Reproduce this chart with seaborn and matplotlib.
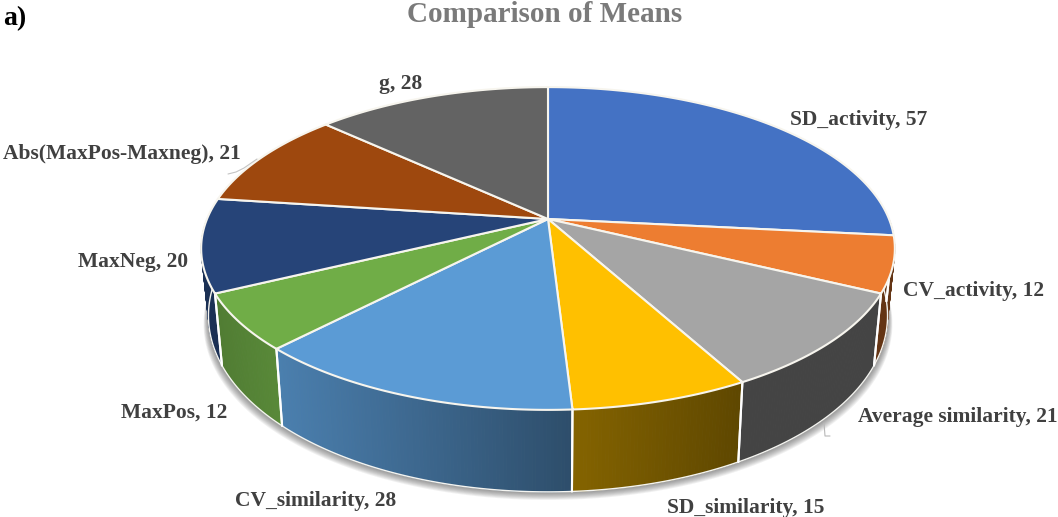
import numpy as np
import matplotlib
matplotlib.use("Agg")
import matplotlib.pyplot as plt
import seaborn as sns

# Chart data
categories = ["SD_activity", "CV_activity", "Average similarity", "SD_similarity",
              "CV_similarity", "MaxPos", "MaxNeg", "Abs(MaxPos-Maxneg)", "g"]
values = [57, 12, 21, 15, 28, 12, 20, 21, 28]
slice_colors = ["#4472C4", "#ED7D31", "#A5A5A5", "#FFC000", "#5B9BD5",
                "#70AD47", "#264478", "#9E480E", "#636363"]

# Wall shading (left factor, right factor) per slice
wall_shade = [(.6, .6), (.42, .42), (.41, .41), (.52, .37), (.82, .50),
              (.72, .80), (.70, .70), (.6, .6), (.6, .6)]

# Label anchors in figure pixels
label_x = [790, 903, 858, 667, 235, 121, 78, 3, 379]
label_y = [120, 291, 417, 508, 501, 413, 262, 154, 84]

W, H = 1058, 517
CX, CY = 548.0, 219.0
PERSP, RX, RY = 0.1827, 341.0, 156.0
BOTTOM_SCALE = 0.979

sns.set_theme(style="white")
plt.rcParams["font.family"] = ["Liberation Serif", "DejaVu Serif"]

fig = plt.figure(figsize=(W / 100, H / 100), dpi=100)
ax = fig.add_axes([0, 0, 1, 1])
ax.set_xlim(0, W)
ax.set_ylim(H, 0)
ax.axis("off")


def rim(theta):
    """Perspective projection of the disc rim; theta runs clockwise from the top."""
    u, v = np.sin(theta), np.cos(theta)
    d = 1 + PERSP * v
    return CX + RX * u / d, CY - RY * v / d


def lower_rim(theta):
    """Rim of the underside of the disc, further from the viewer."""
    x, y = rim(theta)
    v = np.cos(theta)
    return CX + (x - CX) * BOTTOM_SCALE, y + 64 - 18 * v


edges = np.deg2rad(np.r_[0, np.cumsum(values)] / np.sum(values) * 360.0)
palette = sns.color_palette(slice_colors)

# Soft shadow beneath the disc
full = np.linspace(0, 2 * np.pi, 361)
bx, by = lower_rim(full)
for grow in np.arange(9, 0, -1.0):
    ax.fill(CX + (bx - CX) * (1 + grow * .0016), by + grow * .9,
            color="#404040", alpha=.075, lw=0, zorder=1)

# Side walls, only for the part of the rim that faces the viewer
for i, col in enumerate(palette):
    a = max(edges[i], np.pi / 2)
    b = min(edges[i + 1], 3 * np.pi / 2)
    if a >= b:
        continue
    ts = np.linspace(a, b, max(int(np.degrees(b - a) * 2), 2))
    xt, yt = rim(ts)
    xb, yb = lower_rim(ts)
    xmin, xmax = min(xt.min(), xb.min()), max(xt.max(), xb.max())
    left, right = wall_shade[i]
    for j in range(len(ts) - 1):
        f = ((xt[j] + xt[j + 1]) / 2 - xmin) / max(xmax - xmin, 1)
        c = np.array(col) * (left + (right - left) * f)
        ax.fill([xt[j], xt[j + 1], xb[j + 1], xb[j]],
                [yt[j], yt[j + 1], yb[j + 1], yb[j]],
                color=tuple(c), lw=.6, zorder=2)
    # White edge along the wall base and its seams
    ax.plot(xb, yb, color="#f4f4f0", lw=1.0, zorder=3)
    for t in (a, b):
        if np.pi / 2 < t < 3 * np.pi / 2:
            x0, y0 = rim(t)
            x1, y1 = lower_rim(t)
            ax.plot([x0, x1], [y0, y1], color="white", lw=1.5, zorder=3)

# Top face of the pie
for i, col in enumerate(palette):
    ts = np.linspace(edges[i], edges[i + 1], 160)
    xs, ys = rim(ts)
    ax.fill(np.r_[CX, xs], np.r_[CY, ys], facecolor=col, edgecolor="#f7f5ee",
            lw=1.5, joinstyle="round", zorder=4)

# Leader lines
ax.plot([257, 244, 236, 228], [159, 168, 172, 174], color="#c4c4c4", lw=.8, zorder=5)
ax.plot([824, 825, 830], [423, 436, 436], color="#b8b8b8", lw=.8, zorder=5)

# Labels
for name, val, x, y in zip(categories, values, label_x, label_y):
    ax.text(x, y, f"{name}, {val}", ha="left", va="center", fontsize=15.5,
            fontweight="bold", color="#404040", zorder=6)

ax.text(545, 14, "Comparison of Means", ha="center", va="center", fontsize=21,
        fontweight="bold", color="#7a7a7a")
ax.text(3, 19, "a)", ha="left", va="center", fontsize=20, fontweight="bold", color="black")

fig.savefig("out.png", dpi=100, facecolor="white")
